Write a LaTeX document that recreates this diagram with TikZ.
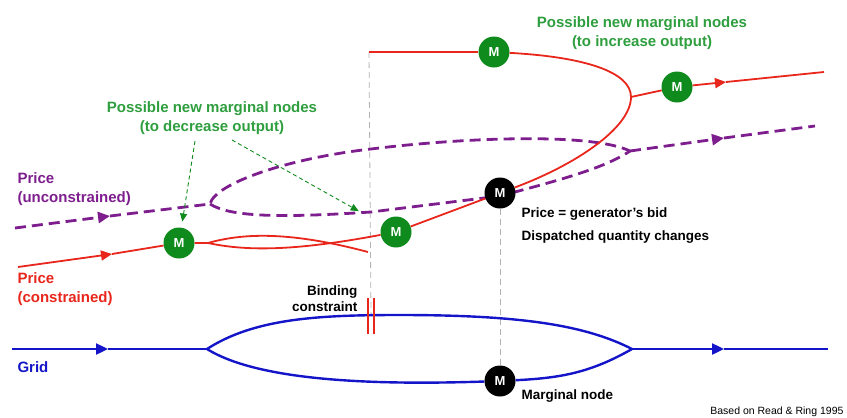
\documentclass[tikz,border=0pt]{standalone}
\usepackage{fontspec}
\setmainfont{Liberation Sans}
\usetikzlibrary{arrows.meta,positioning}
\definecolor{PriceRed}{HTML}{E8261C}
\definecolor{PricePurple}{HTML}{7E1E8E}
\definecolor{GridBlue}{HTML}{1414C8}
\definecolor{NodeGreen}{HTML}{0F8A1C}
\definecolor{NoteGreen}{HTML}{2E9E3E}
\tikzset{redline/.style={draw=PriceRed,line width=1.8pt},purpleline/.style={draw=PricePurple,line width=2.8pt,dash pattern=on 11pt off 6pt},gridline/.style={draw=GridBlue,line width=2.4pt},guide/.style={draw=gray!60,line width=.8pt,dash pattern=on 6pt off 4pt},hint/.style={-{Triangle[length=8pt,width=7pt]},draw=NodeGreen,line width=.9pt,dash pattern=on 4pt off 3pt},midtip/.style={-{Triangle[length=12pt,width=11pt]}},mnode/.style={circle,minimum size=31pt,inner sep=0pt,fill=NodeGreen,text=white,font=\bfseries\fontsize{13}{13}\selectfont},lbl/.style={font=\bfseries\fontsize{15}{19}\selectfont,align=left},note/.style={font=\bfseries\fontsize{13.5}{16}\selectfont,align=left}}
\begin{document}
\begin{tikzpicture}[x=1pt,y=-1pt]
\useasboundingbox (0,0) rectangle (847,418);
\coordinate (g0) at (12,349);\coordinate (ga) at (108,349);\coordinate (gl) at (207,349);\coordinate (gr) at (632,349);\coordinate (gb) at (724,349);\coordinate (g1) at (828,349);
\coordinate (p0) at (15,228);\coordinate (pa) at (110,216);\coordinate (pk1) at (210,204);\coordinate (pk2) at (630,151);\coordinate (pb) at (724,138);\coordinate (p1) at (815,126);
\coordinate (r0) at (18,267);\coordinate (ra) at (112,254);\coordinate (lensl) at (208,243);\coordinate (lensr) at (368,252);\coordinate (nose) at (631,97);\coordinate (rt0) at (369,52);\coordinate (rb) at (726,82);\coordinate (r1) at (824,72);
\coordinate (bc) at (371,316);\coordinate (d1) at (195,141);\coordinate (d2) at (232,140);
\draw[guide] (rt0) -- (bc);
\draw[purpleline,midtip] (p0) -- (pa);
\draw[purpleline] (pa) -- (pk1) .. controls (215,183) and (290,158) .. (371,149) .. controls (460,138) and (590,132) .. (pk2);
\draw[purpleline] (pk1) .. controls (230,217) and (280,218) .. (371,212) -- (500,196) .. controls (560,180) and (605,168) .. (pk2);
\draw[purpleline,midtip] (pk2) -- (pb);\draw[purpleline] (pb) -- (p1);
\node[mnode] (m1) at (179,243) {M};
\node[mnode] (m2) at (396,232) {M};
\node[mnode] (m3) at (494,52) {M};
\node[mnode] (m4) at (677,87) {M};
\node[mnode,fill=black] (bm) at (500,193) {M};
\node[mnode,fill=black] (gm) at (500,381) {M};
\draw[guide] (bm) -- (gm);
\draw[gridline,midtip] (g0) -- (ga);\draw[gridline] (ga) -- (gl);
\draw[gridline] (gl) .. controls (255,318) and (320,315) .. (400,315) .. controls (520,315) and (585,325) .. (gr);
\draw[gridline] (gl) .. controls (260,382) and (380,385) .. (gm);\draw[gridline] (gm) .. controls (560,378) and (590,373) .. (gr);
\draw[gridline,midtip] (gr) -- (gb);\draw[gridline] (gb) -- (g1);
\draw[draw=PriceRed,line width=1.2pt] (bc) ++(-3,-18) -- ++(0,36) (bc) ++(3,-18) -- ++(0,36);
\draw[redline,-{Triangle[length=11pt,width=10pt]}] (r0) -- (ra);\draw[redline] (ra) -- (m1);
\draw[redline] (m1) -- (lensl) .. controls (250,231) and (300,234) .. (lensr);
\draw[redline] (lensl) .. controls (250,252) and (300,250) .. (m2);
\draw[redline] (m2) -- (bm);
\draw[redline] (bm) .. controls (575,165) and (631,128) .. (nose) .. controls (631,72) and (585,57) .. (m3);
\draw[redline] (rt0) -- (m3);
\draw[redline] (nose) -- (m4);\draw[redline,-{Triangle[length=11pt,width=10pt]}] (m4) -- (rb);\draw[redline] (rb) -- (r1);
\node[lbl,text=NoteGreen,align=center] (dec) at (212,118) {Possible new marginal nodes\\(to decrease output)};
\node[lbl,text=NoteGreen,align=center] (inc) at (642,33) {Possible new marginal nodes\\(to increase output)};
\draw[hint,shorten >=6pt] (d1) -- (m1);\draw[hint,shorten >=27pt] (d2) -- (m2);
\node[lbl,text=PricePurple,anchor=west] (unc) at (14,189) {Price\\(unconstrained)};
\node[lbl,text=PriceRed,anchor=west] (con) at (14,289) {Price\\(constrained)};
\node[lbl,text=GridBlue,anchor=west] (grid) at (14,367) {Grid};
\node[note,align=right,anchor=east] (bind) at (361,299) {Binding\\constraint};
\node[note,anchor=west] (bid) at (518,214) {Price = generator's bid};
\node[note,anchor=west] (disp) at (518,237) {Dispatched quantity changes};
\node[note,anchor=west] (marg) at (518,396) {Marginal node};
\node[font=\fontsize{10.5}{10.5}\selectfont,anchor=east] (src) at (847,412) {Based on Read \& Ring 1995};
\end{tikzpicture}
\end{document}
